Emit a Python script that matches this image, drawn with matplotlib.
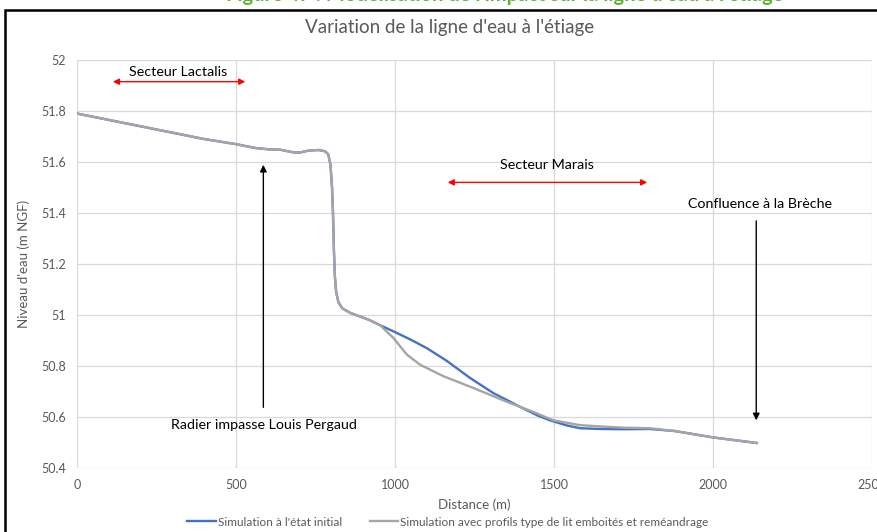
import matplotlib
matplotlib.use("Agg")
import matplotlib.pyplot as plt
from matplotlib.patches import Rectangle

plt.rcParams['font.family'] = ['Lato', 'DejaVu Sans']

# Données
dist_amont = [0, 100, 200, 300, 400, 500, 560, 600, 640, 680, 700, 730, 760, 780,
              790, 797, 802, 805, 808, 811, 815, 822, 835, 860, 890, 920, 953]
niv_amont = [51.79, 51.765, 51.74, 51.715, 51.69, 51.67, 51.655, 51.65, 51.648, 51.638,
             51.637, 51.645, 51.647, 51.642, 51.63, 51.59, 51.50, 51.40, 51.25, 51.15,
             51.09, 51.05, 51.025, 51.008, 50.994, 50.98, 50.96]

dist_initial = [1005, 1050, 1100, 1163, 1236, 1309, 1393, 1450, 1487, 1540, 1582, 1645,
                1720, 1800, 1880, 2000, 2138]
niv_initial = [50.93, 50.903, 50.87, 50.82, 50.753, 50.694, 50.64, 50.605, 50.587, 50.567,
               50.556, 50.553, 50.552, 50.553, 50.545, 50.52, 50.498]

dist_projet = [995, 1037, 1079, 1152, 1246, 1351, 1435, 1498, 1582, 1645, 1720, 1800,
               1880, 2000, 2138]
niv_projet = [50.91, 50.845, 50.805, 50.76, 50.714, 50.66, 50.62, 50.587, 50.568, 50.563,
              50.558, 50.556, 50.545, 50.52, 50.498]

serie_initial = "Simulation à l'état initial"
serie_projet = "Simulation avec profils type de lit emboités et reméandrage"

fig = plt.figure(figsize=(8.78, 5.32), dpi=100)
ax = fig.add_axes([77 / 878, 1 - 468 / 532, 795 / 878, 408 / 532])

ax.plot(dist_amont + dist_initial, niv_amont + niv_initial, color="#4472C4", lw=1.7,
        solid_joinstyle="round", label=serie_initial, zorder=3)
ax.plot(dist_amont + dist_projet, niv_amont + niv_projet, color="#A5A5A5", lw=1.7,
        solid_joinstyle="round", label=serie_projet, zorder=4)

ax.set_xlim(0, 2500)
ax.set_ylim(50.4, 52)
ax.set_xticks(range(0, 2501, 500))
ax.set_yticks([50.4, 50.6, 50.8, 51, 51.2, 51.4, 51.6, 51.8, 52])
ax.set_yticklabels(["50.4", "50.6", "50.8", "51", "51.2", "51.4", "51.6", "51.8", "52"])
ax.grid(color="#D9D9D9", lw=0.9)
ax.set_axisbelow(True)
for s in ax.spines.values():
    s.set_visible(False)
ax.tick_params(length=0, colors="#595959", labelsize=9, pad=8)
ax.set_xlabel("Distance (m)", color="#595959", fontsize=9.5, labelpad=5)
ax.set_ylabel("Niveau d'eau (m NGF)", color="#595959", fontsize=9.5, labelpad=8)

fig.text(450 / 878, 1 - 27 / 532, "Variation de la ligne d'eau à l'étiage",
         ha="center", va="center", fontsize=13.5, color="#595959")

# Annotations
ax.annotate("", xy=(104, 51.915), xytext=(538, 51.915),
            arrowprops=dict(arrowstyle="<|-|>", color="red", lw=1, mutation_scale=9))
ax.text(318, 51.953, "Secteur Lactalis", ha="center", va="center", fontsize=10.3)
ax.annotate("", xy=(1157, 51.52), xytext=(1802, 51.52),
            arrowprops=dict(arrowstyle="<|-|>", color="red", lw=1, mutation_scale=9))
ax.text(1478, 51.588, "Secteur Marais", ha="center", va="center", fontsize=10.3)
ax.annotate("", xy=(2136, 50.576), xytext=(2136, 51.38),
            arrowprops=dict(arrowstyle="-|>", color="black", lw=1, mutation_scale=10))
ax.text(2148, 51.435, "Confluence à la Brèche", ha="center", va="center", fontsize=10.3)
ax.annotate("", xy=(586, 51.60), xytext=(586, 50.627),
            arrowprops=dict(arrowstyle="-|>", color="black", lw=1, mutation_scale=10))
ax.text(588, 50.569, "Radier impasse Louis Pergaud", ha="center", va="center", fontsize=10.3)

fig.legend(loc="center", bbox_to_anchor=(448 / 878, 1 - 522 / 532), ncol=2, frameon=False,
           fontsize=8.5, handlelength=2.4, columnspacing=2.4, handletextpad=0.15,
           labelcolor="#595959")

# Cadre du graphique et titre de figure coupé
fig.patches.append(Rectangle((5 / 878, -0.1), 1.2, 1 - 10 / 532 + 0.1, transform=fig.transFigure,
                             fill=False, edgecolor="black", lw=1.8))
fig.text(505 / 878, 1 - 1 / 532, "Figure 47 : Modélisation de l'impact sur la ligne d'eau à l'étiage",
         ha="center", va="baseline", fontsize=14.5, fontweight="bold", color="#5CB531")

fig.savefig("out.png", dpi=100)
